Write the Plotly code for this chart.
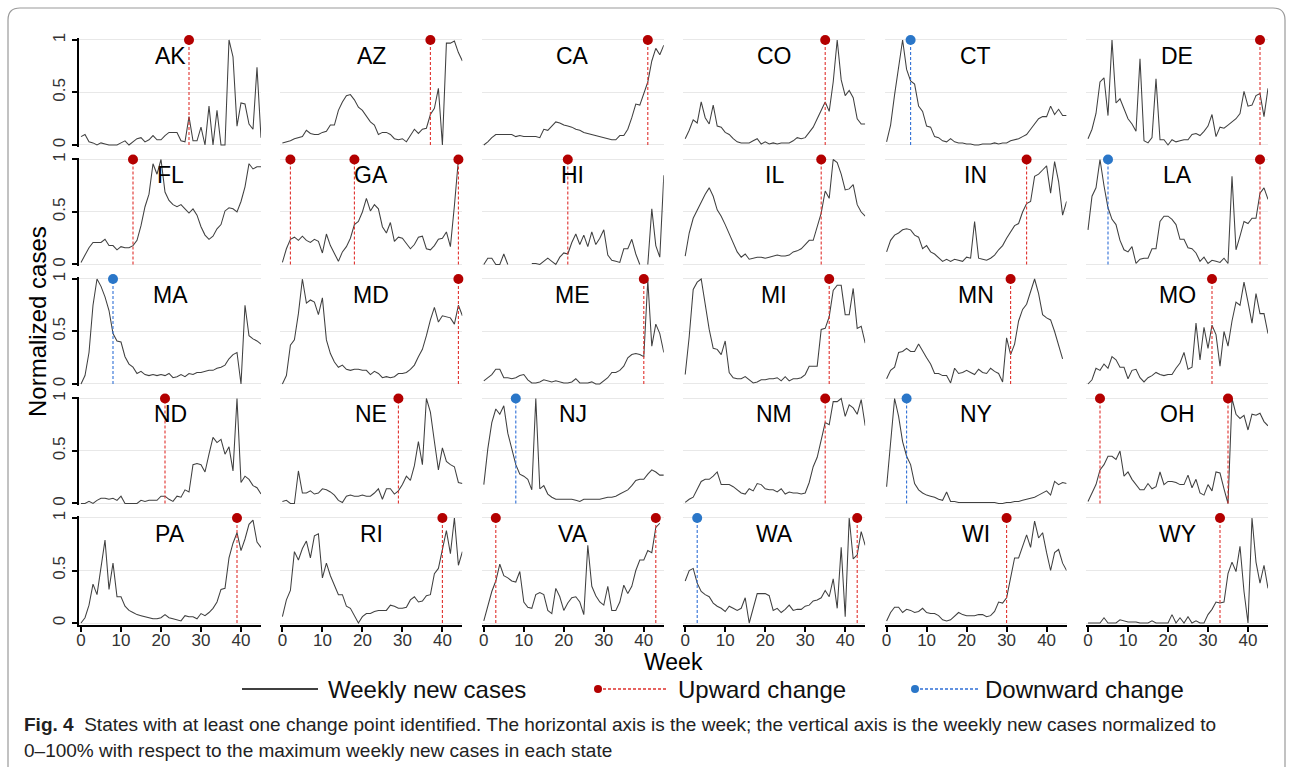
import plotly.graph_objects as go

# ---------------- data ----------------
STATES = ["AK", "AZ", "CA", "CO", "CT", "DE",
          "FL", "GA", "HI", "IL", "IN", "LA",
          "MA", "MD", "ME", "MI", "MN", "MO",
          "ND", "NE", "NJ", "NM", "NY", "OH",
          "PA", "RI", "VA", "WA", "WI", "WY"]

AK = [0.08, 0.10, 0.03, 0.02, 0.0, 0.02, 0.01, 0.0, 0.0, 0.0, 0.02, 0.04, 0.0, 0.03, 0.06, 0.07, 0.03, 0.05, 0.09, 0.05,
      0.05, 0.09, 0.12, 0.12, 0.12, 0.04, 0.03, 0.27, 0.04, 0.04, 0.17, 0.0, 0.37, 0.0, 0.33, 0.0, 0.0, 1.0, 0.84, 0.18,
      0.4, 0.39, 0.2, 0.15, 0.74, 0.07]
AZ = [0.02, 0.03, 0.04, 0.06, 0.07, 0.08, 0.14, 0.11, 0.10, 0.10, 0.12, 0.13, 0.19, 0.19, 0.33, 0.41, 0.47, 0.48, 0.43, 0.36,
      0.33, 0.28, 0.22, 0.19, 0.10, 0.12, 0.12, 0.10, 0.06, 0.05, 0.06, 0.03, 0.09, 0.15, 0.11, 0.15, 0.16, 0.29, 0.35, 0.54,
      0.0, 0.97, 0.97, 0.99, 0.88, 0.80]
CA = [0.0, 0.03, 0.07, 0.1, 0.1, 0.1, 0.1, 0.1, 0.08, 0.09, 0.08, 0.08, 0.08, 0.08, 0.07, 0.15, 0.14, 0.18, 0.22, 0.21,
      0.19, 0.18, 0.17, 0.15, 0.14, 0.12, 0.11, 0.1, 0.09, 0.08, 0.07, 0.06, 0.05, 0.05, 0.09, 0.09, 0.15, 0.26, 0.39, 0.38,
      0.5, 0.6, 0.8, 0.92, 0.86, 0.95]
CO = [0.06, 0.14, 0.24, 0.21, 0.41, 0.26, 0.2, 0.38, 0.18, 0.17, 0.12, 0.1, 0.06, 0.03, 0.02, 0.02, 0.02, 0.04, 0.06, 0.01,
      0.03, 0.01, 0.02, 0.01, 0.02, 0.02, 0.02, 0.04, 0.07, 0.06, 0.07, 0.12, 0.17, 0.25, 0.33, 0.41, 0.32, 0.6, 1.0, 0.62,
      0.47, 0.52, 0.45, 0.25, 0.2, 0.2]
CT = [0.03, 0.19, 0.48, 0.75, 1.0, 0.72, 0.61, 0.58, 0.37, 0.32, 0.18, 0.17, 0.08, 0.07, 0.04, 0.03, 0.06, 0.03, 0.02, 0.02,
      0.01, 0.01, 0.0, 0.0, 0.01, 0.01, 0.01, 0.02, 0.01, 0.02, 0.02, 0.04, 0.05, 0.06, 0.08, 0.1, 0.15, 0.2, 0.25, 0.27,
      0.27, 0.37, 0.29, 0.34, 0.28, 0.28]
DE = [0.06, 0.15, 0.3, 0.6, 0.64, 0.28, 1.0, 0.4, 0.44, 0.35, 0.25, 0.2, 0.13, 0.82, 0.04, 0.02, 0.07, 0.63, 0.05, 0.05,
      0.0, 0.05, 0.03, 0.04, 0.05, 0.05, 0.1, 0.11, 0.09, 0.13, 0.18, 0.29, 0.08, 0.17, 0.16, 0.19, 0.22, 0.25, 0.3, 0.51,
      0.37, 0.38, 0.47, 0.49, 0.27, 0.54]
FL = [0.02, 0.09, 0.16, 0.21, 0.21, 0.21, 0.24, 0.18, 0.18, 0.14, 0.17, 0.16, 0.16, 0.18, 0.23, 0.37, 0.55, 0.67, 0.96, 0.86,
      1.0, 0.69, 0.61, 0.57, 0.55, 0.57, 0.53, 0.49, 0.53, 0.47, 0.36, 0.28, 0.24, 0.27, 0.34, 0.38, 0.51, 0.54, 0.53, 0.5,
      0.6, 0.74, 0.96, 0.91, 0.93, 0.93]
GA = [0.02, 0.15, 0.24, 0.26, 0.23, 0.27, 0.23, 0.21, 0.24, 0.22, 0.11, 0.29, 0.18, 0.1, 0.03, 0.12, 0.17, 0.25, 0.38, 0.41,
      0.5, 0.63, 0.51, 0.57, 0.53, 0.36, 0.3, 0.4, 0.22, 0.26, 0.25, 0.2, 0.15, 0.19, 0.26, 0.27, 0.15, 0.14, 0.18, 0.24,
      0.25, 0.31, 0.17, 0.56, 1.0]
HI = [0.0, 0.06, 0.06, 0.0, 0.0, 0.1, 0.0, None, None, None, None, None, 0.01, 0.01, 0.0, 0.03, 0.06, 0.03, 0.0, 0.07,
      0.11, 0.1, 0.21, 0.29, 0.19, 0.28, 0.17, 0.31, 0.19, 0.25, 0.33, 0.09, 0.04, 0.03, 0.02, 0.15, 0.15, 0.24, 0.1, 0.0,
      None, 0.0, 0.53, 0.18, 0.07, 0.85]
IL = [0.08, 0.3, 0.44, 0.52, 0.6, 0.67, 0.73, 0.65, 0.52, 0.46, 0.38, 0.29, 0.2, 0.12, 0.07, 0.1, 0.05, 0.06, 0.07, 0.07,
      0.06, 0.07, 0.08, 0.09, 0.08, 0.08, 0.09, 0.12, 0.13, 0.15, 0.19, 0.23, 0.23, 0.36, 0.49, 0.7, 0.63, 1.0, 0.97, 0.86,
      0.71, 0.72, 0.76, 0.57, 0.5, 0.46]
IN = [0.12, 0.23, 0.28, 0.3, 0.33, 0.34, 0.33, 0.28, 0.26, 0.15, 0.18, 0.12, 0.1, 0.06, 0.03, 0.05, 0.03, 0.05, 0.04, 0.03,
      0.07, 0.06, 0.41, 0.06, 0.05, 0.04, 0.06, 0.09, 0.14, 0.18, 0.25, 0.31, 0.37, 0.39, 0.5, 0.58, 0.6, 0.84, 0.86, 0.9,
      0.94, 0.68, 0.98, 0.79, 0.47, 0.6]
LA = [0.33, 0.65, 0.73, 1.0, 0.75, 0.54, 0.43, 0.38, 0.23, 0.14, 0.12, 0.17, 0.01, 0.05, 0.06, 0.06, 0.15, 0.15, 0.41, 0.46,
      0.46, 0.43, 0.38, 0.24, 0.24, 0.16, 0.15, 0.11, 0.03, 0.07, 0.01, 0.04, 0.03, 0.02, 0.06, 0.01, 0.84, 0.14, 0.27, 0.41,
      0.39, 0.44, 0.44, 0.68, 0.73, 0.62]
MA = [0.0, 0.08, 0.3, 0.75, 1.0, 0.93, 0.83, 0.7, 0.48, 0.41, 0.4, 0.26, 0.19, 0.16, 0.1, 0.12, 0.09, 0.08, 0.09, 0.08,
      0.09, 0.08, 0.1, 0.06, 0.07, 0.09, 0.07, 0.1, 0.09, 0.11, 0.11, 0.12, 0.13, 0.13, 0.15, 0.16, 0.18, 0.24, 0.28, 0.3,
      0.0, 0.75, 0.46, 0.43, 0.41, 0.38]
MD = [0.0, 0.08, 0.37, 0.42, 0.67, 1.0, 0.77, 0.8, 0.78, 0.66, 0.82, 0.42, 0.29, 0.21, 0.16, 0.18, 0.14, 0.13, 0.14, 0.14,
      0.13, 0.13, 0.09, 0.12, 0.1, 0.06, 0.07, 0.06, 0.07, 0.1, 0.1, 0.11, 0.14, 0.18, 0.26, 0.33, 0.46, 0.61, 0.73, 0.59,
      0.65, 0.64, 0.63, 0.57, 0.75, 0.65]
ME = [0.03, 0.06, 0.09, 0.14, 0.14, 0.06, 0.06, 0.05, 0.06, 0.08, 0.09, 0.04, 0.01, 0.01, 0.02, 0.04, 0.03, 0.02, 0.03, 0.02,
      0.01, 0.01, 0.02, 0.05, 0.01, 0.01, 0.01, 0.02, 0.0, 0.0, 0.03, 0.06, 0.11, 0.11, 0.13, 0.17, 0.25, 0.28, 0.29, 0.28,
      0.26, 0.99, 0.36, 0.57, 0.48, 0.3]
MI = [0.09, 0.45, 0.9, 0.97, 1.0, 0.77, 0.52, 0.34, 0.33, 0.28, 0.41, 0.11, 0.06, 0.05, 0.05, 0.07, 0.04, 0.01, 0.02, 0.04,
      0.04, 0.05, 0.05, 0.06, 0.03, 0.07, 0.03, 0.05, 0.05, 0.06, 0.09, 0.17, 0.17, 0.17, 0.52, 0.53, 0.64, 0.89, 0.94, 0.94,
      0.66, 0.66, 0.91, 0.53, 0.55, 0.39]
MN = [0.05, 0.13, 0.16, 0.3, 0.31, 0.34, 0.31, 0.31, 0.38, 0.31, 0.25, 0.19, 0.1, 0.1, 0.08, 0.08, 0.01, 0.15, 0.1, 0.11,
      0.13, 0.11, 0.09, 0.14, 0.11, 0.1, 0.15, 0.12, 0.1, 0.02, 0.44, 0.28, 0.38, 0.6, 0.71, 0.76, 0.88, 1.0, 0.86, 0.66,
      0.63, 0.61, 0.5, 0.38, 0.24]
MO = [0.0, 0.04, 0.15, 0.13, 0.19, 0.15, 0.26, 0.23, 0.16, 0.16, 0.05, 0.13, 0.14, 0.06, 0.02, 0.06, 0.08, 0.11, 0.09, 0.08,
      0.09, 0.09, 0.15, 0.2, 0.3, 0.14, 0.16, 0.58, 0.23, 0.54, 0.34, 0.56, 0.47, 0.17, 0.5, 0.36, 0.6, 0.78, 0.75, 0.97,
      0.78, 0.58, 0.86, 0.67, 0.67, 0.48]
ND = [0.0, 0.0, 0.02, 0.0, 0.03, 0.05, 0.05, 0.04, 0.05, 0.03, 0.07, 0.0, 0.0, 0.0, 0.0, 0.03, 0.02, 0.03, 0.03, 0.03,
      0.07, 0.07, 0.04, 0.02, 0.07, 0.06, 0.13, 0.11, 0.37, 0.38, 0.37, 0.3, 0.47, 0.63, 0.58, 0.61, 0.47, 0.54, 0.31, 1.0,
      0.2, 0.26, 0.23, 0.17, 0.15, 0.09]
NE = [0.02, 0.03, 0.0, 0.0, 0.31, 0.1, 0.1, 0.12, 0.09, 0.1, 0.14, 0.13, 0.11, 0.08, 0.03, 0.01, 0.07, 0.08, 0.07, 0.07,
      0.08, 0.07, 0.07, 0.1, 0.14, 0.04, 0.14, 0.14, 0.09, 0.12, 0.18, 0.26, 0.22, 0.36, 0.59, 0.37, 1.0, 0.87, 0.59, 0.32,
      0.53, 0.4, 0.37, 0.35, 0.2, 0.19]
NJ = [0.18, 0.52, 0.77, 0.9, 0.85, 0.93, 0.67, 0.52, 0.37, 0.28, 0.26, 0.23, 0.13, 1.0, 0.14, 0.17, 0.09, 0.06, 0.04, 0.04,
      0.04, 0.04, 0.04, 0.03, 0.02, 0.04, 0.04, 0.04, 0.04, 0.04, 0.05, 0.06, 0.06, 0.07, 0.09, 0.11, 0.13, 0.17, 0.22, 0.23,
      0.23, 0.28, 0.32, 0.3, 0.27, 0.27]
NM = [0.01, 0.04, 0.06, 0.14, 0.21, 0.23, 0.23, 0.26, 0.3, 0.18, 0.18, 0.18, 0.16, 0.13, 0.1, 0.09, 0.14, 0.12, 0.19, 0.18,
      0.14, 0.13, 0.13, 0.11, 0.14, 0.09, 0.11, 0.1, 0.1, 0.09, 0.1, 0.2, 0.35, 0.44, 0.6, 0.77, 0.75, 0.97, 0.97, 1.0,
      0.83, 0.94, 0.91, 0.85, 0.99, 0.74]
NY = [0.16, 0.56, 1.0, 0.83, 0.59, 0.45, 0.37, 0.19, 0.13, 0.1, 0.08, 0.07, 0.06, 0.04, 0.03, 0.11, 0.02, 0.02, 0.01, 0.01,
      0.01, 0.01, 0.01, 0.01, 0.01, 0.01, 0.01, 0.01, 0.0, 0.0, 0.01, 0.01, 0.02, 0.02, 0.03, 0.04, 0.05, 0.06, 0.08, 0.1,
      0.12, 0.08, 0.21, 0.18, 0.2, 0.19]
OH = [0.02, 0.1, 0.18, 0.32, 0.37, 0.45, 0.45, 0.42, 0.5, 0.26, 0.3, 0.23, 0.18, 0.13, 0.13, 0.19, 0.14, 0.16, 0.3, 0.18,
      0.21, 0.21, 0.2, 0.18, 0.18, 0.27, 0.15, 0.23, 0.1, 0.08, 0.18, 0.12, 0.3, 0.29, 0.14, 0.0, 1.0, 0.85, 0.81, 0.84,
      0.7, 0.85, 0.84, 0.86, 0.78, 0.74]
PA = [0.0, 0.05, 0.17, 0.37, 0.27, 0.54, 0.79, 0.32, 0.57, 0.25, 0.25, 0.16, 0.12, 0.1, 0.08, 0.07, 0.06, 0.05, 0.04, 0.04,
      0.05, 0.08, 0.05, 0.04, 0.03, 0.02, 0.07, 0.06, 0.06, 0.04, 0.09, 0.07, 0.1, 0.14, 0.2, 0.32, 0.33, 0.62, 0.76, 0.86,
      0.69, 0.8, 0.94, 0.98, 0.77, 0.72]
RI = [0.06, 0.22, 0.31, 0.68, 0.6, 0.71, 0.78, 0.62, 0.83, 0.85, 0.43, 0.57, 0.45, 0.35, 0.27, 0.27, 0.16, 0.14, 0.07, 0.0,
      0.06, 0.09, 0.09, 0.11, 0.12, 0.12, 0.12, 0.17, 0.16, 0.14, 0.14, 0.15, 0.22, 0.25, 0.2, 0.21, 0.26, 0.27, 0.47, 0.52,
      0.71, 0.88, 0.66, 1.0, 0.55, 0.68]
VA = [0.02, 0.15, 0.3, 0.4, 0.56, 0.45, 0.43, 0.4, 0.39, 0.49, 0.2, 0.15, 0.14, 0.27, 0.29, 0.27, 0.12, 0.09, 0.33, 0.25,
      0.12, 0.19, 0.24, 0.25, 0.2, 0.08, 0.74, 0.35, 0.26, 0.2, 0.17, 0.35, 0.12, 0.12, 0.2, 0.36, 0.28, 0.35, 0.5, 0.6,
      0.6, 0.69, 0.67, 0.91, 0.95]
WA = [0.4, 0.5, 0.52, 0.38, 0.3, 0.27, 0.25, 0.19, 0.16, 0.14, 0.11, 0.16, 0.14, 0.12, 0.14, 0.24, 0.0, 0.14, 0.28, 0.28,
      0.28, 0.26, 0.12, 0.14, 0.1, 0.13, 0.17, 0.12, 0.13, 0.13, 0.16, 0.17, 0.21, 0.22, 0.24, 0.31, 0.25, 0.42, 0.14, 0.72,
      0.06, 1.0, 0.61, 0.65, 0.87, 0.74]
WI = [0.02, 0.1, 0.15, 0.15, 0.1, 0.13, 0.12, 0.1, 0.11, 0.14, 0.1, 0.09, 0.09, 0.07, 0.03, 0.02, 0.03, 0.07, 0.1, 0.08,
      0.07, 0.07, 0.07, 0.08, 0.08, 0.06, 0.07, 0.11, 0.2, 0.19, 0.24, 0.43, 0.62, 0.62, 0.72, 0.84, 0.72, 0.97, 0.81, 0.86,
      0.67, 0.5, 0.67, 0.7, 0.57, 0.5]
WY = [0.0, 0.0, 0.0, 0.0, 0.05, 0.0, 0.0, 0.0, 0.03, 0.02, 0.01, 0.01, 0.01, 0.0, 0.0, 0.0, 0.02, 0.0, 0.0, 0.0,
      0.0, 0.08, 0.0, 0.05, 0.0, 0.06, 0.0, 0.02, 0.0, 0.0, 0.08, 0.13, 0.2, 0.19, 0.2, 0.47, 0.58, 0.49, 0.73, 0.3,
      0.0, 1.0, 0.58, 0.38, 0.55, 0.33]

SERIES = [AK, AZ, CA, CO, CT, DE, FL, GA, HI, IL, IN, LA, MA, MD, ME, MI, MN, MO,
          ND, NE, NJ, NM, NY, OH, PA, RI, VA, WA, WI, WY]

# change-point weeks, in the same order as STATES
UP_CHANGES = [[27], [37], [41], [35], [], [43],
              [13], [2, 18, 44], [21], [34], [35], [43],
              [], [44], [40], [36], [31], [31],
              [21], [29], [], [35], [], [3, 35],
              [39], [40], [3, 43], [43], [30], [33]]
DOWN_CHANGES = [[], [], [], [], [6], [],
                [], [], [], [], [], [5],
                [8], [], [], [], [], [],
                [], [], [8], [], [5], [],
                [], [], [], [3], [], []]

X_TICKS = [0, 10, 20, 30, 40]
Y_TICKS = [0, 0.5, 1]
Y_TICK_TEXT = ["0", "0.5", "1"]
LEGEND_LABELS = ["Weekly new cases", "Upward change", "Downward change"]
CAPTION_1 = ("<b>Fig. 4</b>  States with at least one change point identified. The horizontal axis is the week; "
             "the vertical axis is the weekly new cases normalized to")
CAPTION_2 = "0–100% with respect to the maximum weekly new cases in each state"

# ---------------- styling / layout ----------------
W, H = 1292, 767
FONT = "Liberation Sans, Arial, Helvetica, sans-serif"
LINE_COLOR = "#404040"
UP_LINE, UP_DOT = "#e0302c", "#b30000"
DN_LINE, DN_DOT = "#2f6fd6", "#2a76c8"
X_RANGE = [-0.5, 45.0]
Y_RANGE = [-0.015, 1.015]
NCOL, NROW = 6, 5
COL_LEFT, COL_PITCH, PANEL_W = 79.0, 201.4, 182.0
ROW_TOP1, ROW_PITCH, UNIT_H = 40.0, 119.5, 105.0


def px_x(p):
    return p / W


def px_y(p):
    return 1 - p / H


fig = go.Figure()
layout = dict(width=W, height=H, margin=dict(l=0, r=0, t=0, b=0, autoexpand=False),
              paper_bgcolor="white", plot_bgcolor="white",
              showlegend=False, font=dict(family=FONT, color="#111"))
annotations = []
shapes = []

for i, (st, ys) in enumerate(zip(STATES, SERIES)):
    r, c = divmod(i, NCOL)
    k = i + 1
    xa = "x" if k == 1 else f"x{k}"
    ya = "y" if k == 1 else f"y{k}"
    left = COL_LEFT + COL_PITCH * c
    right = left + PANEL_W
    y1px = ROW_TOP1 + ROW_PITCH * r
    top = y1px - (Y_RANGE[1] - 1) * UNIT_H
    bottom = y1px + (1 - Y_RANGE[0]) * UNIT_H

    weeks = list(range(len(ys)))
    fig.add_trace(go.Scatter(x=weeks, y=ys, xaxis=xa, yaxis=ya, mode="lines",
                             line=dict(color=LINE_COLOR, width=1.05), connectgaps=False,
                             hoverinfo="skip"))
    for cps, lc, dc in ((UP_CHANGES[i], UP_LINE, UP_DOT), (DOWN_CHANGES[i], DN_LINE, DN_DOT)):
        for cp in cps:
            fig.add_trace(go.Scatter(x=[cp, cp], y=[0, 1], xaxis=xa, yaxis=ya, mode="lines",
                                     line=dict(color=lc, width=1.1, dash="3px,2px"), hoverinfo="skip"))
            fig.add_trace(go.Scatter(x=[cp], y=[1], xaxis=xa, yaxis=ya, mode="markers",
                                     marker=dict(color=dc, size=10), cliponaxis=False, hoverinfo="skip"))

    xkey = "xaxis" if k == 1 else f"xaxis{k}"
    ykey = "yaxis" if k == 1 else f"yaxis{k}"
    bottom_row = (r == NROW - 1)
    first_col = (c == 0)
    layout[xkey] = dict(domain=[px_x(left), px_x(right)], range=X_RANGE, anchor=ya,
                        showgrid=False, zeroline=False, fixedrange=True, automargin=False,
                        showline=bottom_row, linecolor="black", linewidth=2.4,
                        ticks="outside" if bottom_row else "", ticklen=5, tickwidth=2.4, tickcolor="black",
                        tickvals=X_TICKS, showticklabels=bottom_row, ticklabelstandoff=-6,
                        tickfont=dict(size=17, color="#333", family=FONT))
    layout[ykey] = dict(domain=[px_y(bottom), px_y(top)], range=Y_RANGE, anchor=xa,
                        showgrid=True, gridcolor="#e8e8e8", gridwidth=1.3, zeroline=False, fixedrange=True,
                        automargin=False,
                        showline=first_col, linecolor="black", linewidth=2.4,
                        ticks="outside" if first_col else "", ticklen=5, tickwidth=2.4, tickcolor="black",
                        tickvals=Y_TICKS, ticktext=Y_TICK_TEXT, showticklabels=first_col,
                        tickangle=-90, tickfont=dict(size=17, color="#333", family=FONT))
    annotations.append(dict(text=st, xref=xa, yref=ya, x=(X_RANGE[0] + X_RANGE[1]) / 2, y=0.85,
                            showarrow=False, xanchor="center", yanchor="middle",
                            font=dict(size=23, color="black", family=FONT)))

# axis titles
annotations.append(dict(text="Week", xref="paper", yref="paper", x=px_x(673), y=px_y(662),
                        xanchor="center", yanchor="middle",
                        showarrow=False, font=dict(size=23, color="black", family=FONT)))
annotations.append(dict(text="Normalized cases", xref="paper", yref="paper", x=px_x(38), y=px_y(322),
                        xanchor="center", yanchor="middle",
                        textangle=-90, showarrow=False, font=dict(size=24, color="black", family=FONT)))

# manual legend
LEG_Y = 689
leg_items = [(242, 318, LINE_COLOR, None, None), (598, 668, UP_LINE, UP_DOT, "3px,2px"),
             (915, 978, DN_LINE, DN_DOT, "3px,2px")]
leg_text_x = [326, 676, 983]
for (x0, x1, lc, dc, dash), lab, tx in zip(leg_items, LEGEND_LABELS, leg_text_x):
    shapes.append(dict(type="line", xref="paper", yref="paper", x0=px_x(x0), x1=px_x(x1),
                       y0=px_y(LEG_Y), y1=px_y(LEG_Y),
                       line=dict(color=("black" if dc is None else lc), width=1.6 if dc is None else 1.3,
                                 dash=dash if dash else "solid")))
    if dc is not None:
        shapes.append(dict(type="circle", xref="paper", yref="paper",
                           x0=px_x(x0 - 4), x1=px_x(x0 + 4), y0=px_y(LEG_Y + 4), y1=px_y(LEG_Y - 4),
                           fillcolor=dc, line=dict(color=dc, width=0)))
    annotations.append(dict(text=lab, xref="paper", yref="paper", x=px_x(tx), y=px_y(LEG_Y),
                            xanchor="left", yanchor="middle", showarrow=False,
                            font=dict(size=24, color="#111", family=FONT)))

# caption
CAP_FONT = "Liberation Sans Narrow, Arial Narrow, Liberation Sans, sans-serif"
annotations.append(dict(text=CAPTION_1, xref="paper", yref="paper", x=px_x(22), y=px_y(724),
                        xanchor="left", yanchor="middle", showarrow=False, align="left",
                        font=dict(size=19, color="#222", family=CAP_FONT)))
annotations.append(dict(text=CAPTION_2, xref="paper", yref="paper", x=px_x(22), y=px_y(750),
                        xanchor="left", yanchor="middle", showarrow=False, align="left",
                        font=dict(size=19, color="#222", family=CAP_FONT)))

# rounded frame around the figure
fx0, fx1, fy0, fyb, rr = 8, 1285, 8, 800, 12
path = (f"M {px_x(fx0)},{px_y(fyb)} L {px_x(fx0)},{px_y(fy0 + rr)} "
        f"Q {px_x(fx0)},{px_y(fy0)} {px_x(fx0 + rr)},{px_y(fy0)} "
        f"L {px_x(fx1 - rr)},{px_y(fy0)} Q {px_x(fx1)},{px_y(fy0)} {px_x(fx1)},{px_y(fy0 + rr)} "
        f"L {px_x(fx1)},{px_y(fyb)}")
shapes.append(dict(type="path", xref="paper", yref="paper", path=path,
                   line=dict(color="#9a9a9a", width=1.2)))

layout["annotations"] = annotations
layout["shapes"] = shapes
fig.update_layout(**layout)

fig.write_html("out.html", config={"displayModeBar": False},
               post_script="document.body.style.margin='0';document.body.style.overflow='hidden';")
